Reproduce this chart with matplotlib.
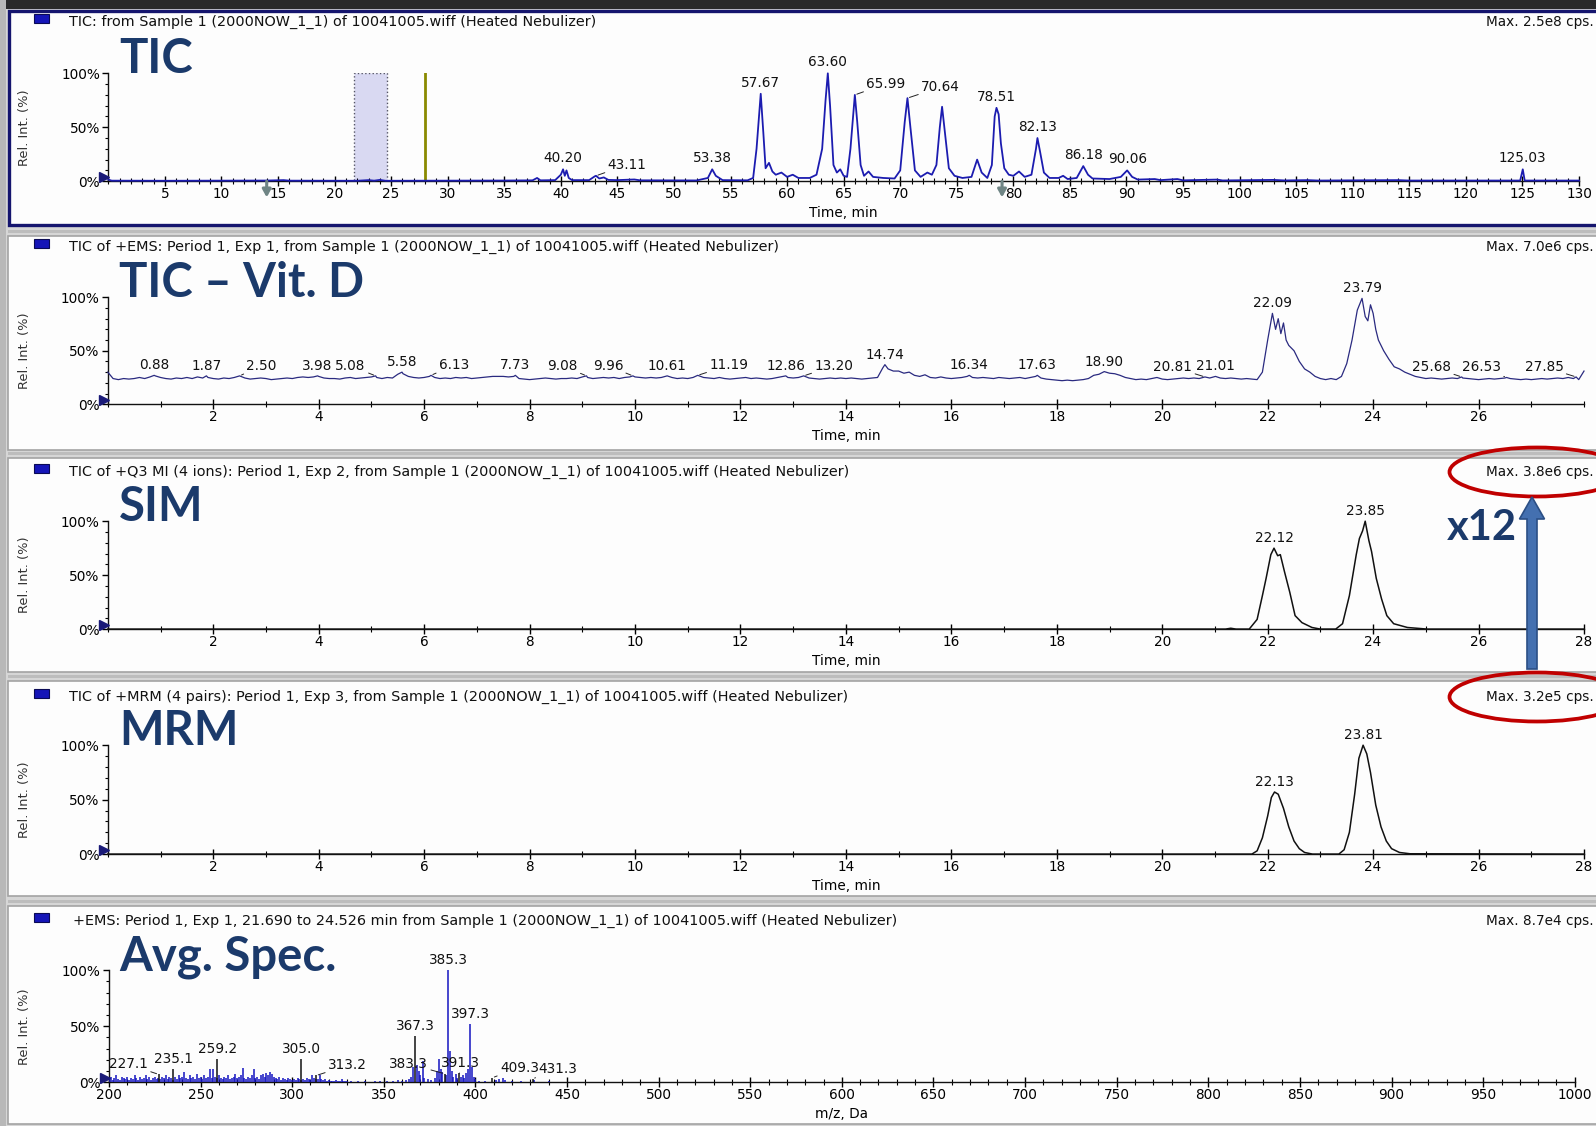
import numpy as np
import matplotlib
matplotlib.use("Agg")
import matplotlib.pyplot as plt
from matplotlib.patches import Rectangle, Ellipse, FancyArrow
from matplotlib.ticker import MultipleLocator

# ---------------------------------------------------------------- data
# Whole-run TIC (time in min, relative intensity in %)
tic_t = [0, 0.3, 5, 10, 14, 15.5, 16, 22, 23, 23.5, 24, 24.5, 30, 35, 37.5, 37.9, 38.2,
         39.5, 40.0, 40.2, 40.35, 40.5, 40.7, 41.0, 42.5, 43.0, 43.11, 43.4, 43.8, 44.2,
         45, 46.5, 47, 50, 52, 53.0, 53.38, 53.7, 54.0, 54.3, 56.5, 57.0, 57.3, 57.67,
         57.9, 58.1, 58.4, 58.7, 59.0, 59.5, 60.0, 60.5, 61.0, 62.0, 62.6, 63.1, 63.4,
         63.60, 63.8, 64.1, 64.4, 64.7, 65.0, 65.3, 65.6, 65.99, 66.2, 66.5, 66.8, 67.2,
         67.6, 68.5, 69.5, 70.0, 70.4, 70.64, 70.9, 71.3, 71.8, 72.4, 72.8, 73.2, 73.5,
         73.7, 73.95, 74.3, 74.8, 75.5, 76.3, 76.8, 77.2, 77.7, 78.1, 78.35, 78.51, 78.7,
         78.9, 79.2, 79.6, 80.0, 80.5, 81.0, 81.6, 82.0, 82.13, 82.35, 82.7, 83.2, 84.0,
         84.4, 84.8, 85.6, 86.18, 86.6, 87.0, 88.5, 89.5, 90.06, 90.5, 91.0, 92.5, 93.0,
         94.5, 95.0, 98.0, 98.5, 103, 104, 106, 107, 114, 115, 124.8, 125.03, 125.2, 130]
tic_y = [1.5, 0.5, 0.4, 0.5, 0.6, 1.0, 0.5, 0.4, 1.0, 0.5, 1.2, 0.4, 0.5, 0.6, 0.8, 3.0, 0.8,
         1.0, 6.0, 11.0, 5.0, 10.0, 3.0, 1.0, 1.0, 4.5, 5.0, 2.5, 3.5, 1.2,
         1.0, 1.6, 0.8, 0.8, 0.7, 3.0, 11.0, 5.0, 3.0, 1.0, 0.8, 3.0, 30.0, 81.0,
         45.0, 12.0, 17.0, 9.0, 6.0, 8.0, 4.0, 6.0, 3.0, 3.0, 6.0, 30.0, 75.0,
         100.0, 70.0, 15.0, 8.0, 11.0, 5.0, 4.0, 30.0, 80.0, 55.0, 15.0, 5.0, 9.0,
         4.0, 3.0, 2.5, 10.0, 55.0, 77.0, 50.0, 10.0, 4.0, 8.0, 6.0, 15.0, 50.0,
         69.0, 45.0, 12.0, 5.0, 3.0, 4.0, 20.0, 8.0, 3.0, 15.0, 60.0, 68.0, 62.0,
         35.0, 12.0, 6.0, 5.0, 9.0, 4.0, 6.0, 30.0, 40.0, 28.0, 8.0, 3.0, 3.0,
         5.0, 2.0, 3.0, 14.0, 6.0, 2.5, 2.0, 4.0, 10.0, 4.0, 1.5, 2.0, 1.0,
         2.0, 0.8, 1.5, 0.7, 1.2, 0.7, 1.0, 0.6, 1.0, 0.6, 0.6, 11.0, 0.6, 0.6]
tic_label_t = [40.20, 43.11, 53.38, 57.67, 63.60, 65.99, 70.64, 78.51, 82.13, 86.18, 90.06, 125.03]
tic_window = (21.7, 24.6)
tic_cursor = 28.0
tic_markers = [14.0, 79.0]

# TIC of +EMS over the Vit. D window, sampled every 0.1 min from 0 to 28 min
vitd_step = 0.1
vitd_base = [
    30, 24, 23, 24, 23.5, 24, 25, 24, 25.5, 26.5,
    25, 24, 23.5, 24.5, 24, 25, 24, 25.5, 24.5, 25,
    24, 23.5, 24.5, 24, 25, 26, 24.5, 23.5, 24, 24.5,
    24, 23, 23.5, 24, 24.5, 24, 25, 25.5, 25, 25.5,
    26, 24.5, 24, 24, 23.5, 24.5, 25, 24, 24.5, 25,
    25.5, 25, 24, 25, 24.5, 28, 28.5, 26, 25, 24.5,
    25, 26, 25, 24, 24.5, 24, 25, 24.5, 25, 24,
    24.5, 25, 25.5, 26, 26, 26, 25.5, 26, 24, 23.5,
    23, 23.5, 24, 24.5, 24, 23.5, 24, 24, 24.5, 24,
    25.5, 25, 24, 24.5, 25, 24.5, 25, 24, 25, 25.5,
    25.5, 25, 24.5, 25, 24.5, 25, 25.5, 25, 24, 24.5,
    24, 25, 26, 25, 24.5, 24, 25, 24, 23.5, 24,
    24.5, 25, 24, 24.5, 24, 23.5, 24, 25, 26, 25,
    24.5, 25, 25.5, 24.5, 24, 23.5, 24, 24.5, 24, 24.5,
    24, 24.5, 24, 23.5, 24, 24.5, 25, 34, 33, 31,
    31, 29, 30, 27, 26, 27.5, 25, 24.5, 25.5, 24.5,
    24, 24.5, 25, 26, 25, 24.5, 25, 24.5, 24, 25,
    24.5, 24, 24.5, 25, 24, 25, 26, 24.5, 23.5, 23,
    22.5, 22, 22.5, 22, 22.5, 23, 24, 27, 28, 29,
    29, 28.5, 27, 25, 24, 23, 23.5, 23, 24, 25,
    23.5, 23, 23.5, 24, 24.5, 24, 24.5, 24, 25, 24.5,
    25, 24.5, 24, 24.5, 24, 23.5, 24, 23.5, 23, 30,
    60, 82, 80, 76, 55, 50, 40, 33, 30, 26,
    24, 23, 24, 23, 26, 38, 60, 88, 85, 78,
    85, 60, 50, 42, 35, 33, 30, 28, 26, 25,
    24, 24.5, 24, 23.5, 24, 24.5, 24, 24.5, 24, 23.5,
    23, 23.5, 24, 23.5, 24, 24.5, 24, 23.5, 23, 23.5,
    23, 23.5, 24, 23.5, 24, 24.5, 24, 25, 24, 23,
    31]
vitd_apex_t = [0.88, 1.87, 2.50, 3.98, 5.08, 5.58, 6.13, 7.73, 9.08, 9.96, 10.61, 11.19,
               12.86, 13.20, 14.74, 16.34, 17.63, 18.90, 20.81, 21.01, 22.09, 23.79,
               25.68, 26.53, 27.85]
vitd_apex_y = [27, 26.5, 26.5, 26.5, 26.5, 30, 27, 27, 26.5, 26.5, 26.5, 27,
               26.5, 26.5, 37, 27, 27, 30.5, 25.5, 26, 85, 99,
               25.5, 25, 25.5]
vitd_shape_t = [22.15, 22.25, 22.35, 23.85, 23.95, 24.05]
vitd_shape_y = [70, 66, 60, 82, 93, 70]

# TIC of +Q3 MI (SIM)
sim_t = [0, 21.2, 21.3, 21.4, 21.65, 21.8, 21.9, 21.97, 22.06, 22.12, 22.19, 22.24, 22.32,
         22.42, 22.52, 22.65, 22.84, 23.0, 23.29, 23.42, 23.55, 23.68, 23.74, 23.80, 23.85,
         23.92, 23.97, 24.06, 24.16, 24.26, 24.39, 24.65, 25.03, 28]
sim_y = [0, 0, 0.8, 0, 0, 9, 31, 47, 69, 75, 68, 69, 53,
         34, 12.5, 6, 1.5, 0, 0, 5, 31, 69, 84, 91, 100,
         82, 72, 47, 28, 12.5, 5, 1.5, 0, 0]
sim_label_t = [22.12, 23.85]

# TIC of +MRM
mrm_t = [0, 21.7, 21.8, 21.9, 22.0, 22.07, 22.13, 22.2, 22.3, 22.4, 22.5, 22.6, 22.7, 22.85,
         23.35, 23.45, 23.55, 23.65, 23.73, 23.81, 23.88, 23.95, 24.05, 24.15, 24.25, 24.35,
         24.5, 24.7, 28]
mrm_y = [0, 0, 3, 15, 35, 52, 57, 55, 42, 25, 12, 5, 1.5, 0,
         0, 4, 20, 55, 88, 100, 92, 75, 45, 25, 12, 5,
         1.5, 0.3, 0]
mrm_label_t = [22.13, 23.81]

# Averaged +EMS spectrum, 21.690 to 24.526 min (m/z in Da, relative intensity in %)
spec_lo_start = 200          # nominal masses 200..330
spec_lo_int = [
    3, 5, 2, 4, 6, 3, 2, 5, 4, 3,
    5, 2, 4, 3, 6, 4, 2, 5, 3, 4,
    6, 3, 5, 2, 4, 5, 3, 4, 3, 5,
    4, 6, 3, 5, 4, 2, 5, 3, 6, 4,
    5, 9, 4, 3, 6, 4, 5, 3, 7, 4,
    5, 3, 6, 4, 5, 12, 4, 12, 5, 4,
    6, 4, 3, 5, 4, 6, 3, 4, 5, 7,
    4, 5, 6, 13, 4, 3, 5, 4, 6, 12,
    4, 5, 3, 6, 7, 5, 8, 6, 9, 7,
    5, 4, 3, 5, 2, 4, 3, 2, 4, 3,
    2, 3, 2, 4, 3, 2, 3, 2, 4, 3,
    2, 6, 4, 3, 3, 6, 3, 2, 3, 1.5,
    2, 1, 1.5, 1, 2, 1, 1.5, 3, 1, 1, 1.5]
spec_hi_mz = [332, 336, 340, 345, 348, 352, 355, 358, 360, 362, 364, 365, 366, 368, 369,
              370, 371.3, 372, 374, 376, 378, 379, 380.3, 381, 382, 384, 386, 387, 388, 389.3,
              390, 392, 393, 394, 395, 396, 398, 399, 400, 402, 405, 411, 413, 415, 416,
              420, 425, 432, 440]
spec_hi_int = [1, 1.5, 1, 1, 1.5, 1, 1.5, 2, 1.5, 2, 3, 5, 14, 15, 10,
               6, 19, 4, 3, 2, 4, 10, 21, 12, 9, 6, 28, 10, 5, 7,
               4, 5, 6, 4, 8, 12, 14, 5, 3, 1, 1, 2, 3, 3.5, 2,
               1, 1, 2, 1]
spec_label_mz = [227.1, 235.1, 259.2, 305.0, 313.2, 367.3, 383.3, 385.3, 391.3,
                 397.3, 409.3, 431.3]
spec_label_int = [7, 12, 21, 21, 6, 41, 7.5, 100, 8, 52, 4, 3]

panel_titles = [
    "TIC: from Sample 1 (2000NOW_1_1) of 10041005.wiff (Heated Nebulizer)",
    "TIC of +EMS: Period 1, Exp 1, from Sample 1 (2000NOW_1_1) of 10041005.wiff (Heated Nebulizer)",
    "TIC of +Q3 MI (4 ions): Period 1, Exp 2, from Sample 1 (2000NOW_1_1) of 10041005.wiff (Heated Nebulizer)",
    "TIC of +MRM (4 pairs): Period 1, Exp 3, from Sample 1 (2000NOW_1_1) of 10041005.wiff (Heated Nebulizer)",
    "+EMS: Period 1, Exp 1, 21.690 to 24.526 min from Sample 1 (2000NOW_1_1) of 10041005.wiff (Heated Nebulizer)",
]
panel_max = ["Max. 2.5e8 cps.", "Max. 7.0e6 cps.", "Max. 3.8e6 cps.", "Max. 3.2e5 cps.", "Max. 8.7e4 cps."]
panel_names = ["TIC", "TIC – Vit. D", "SIM", "MRM", "Avg. Spec."]
ratio_text = "x12"

# ---------------------------------------------------------------- layout
W, H = 1596, 1126
SMALL = 9.8
TITLE_FS = 10.4
NAVY = "#1b3a6b"
AX_BOX = [  # left, top (100 %), right, bottom (0 %) in pixels
    (108.3, 73.3, 1579.0, 181.2),
    (107.8, 297.3, 1584.0, 404.2),
    (107.8, 521.2, 1584.0, 629.1),
    (107.8, 745.2, 1584.0, 854.1),
    (108.9, 970.2, 1574.8, 1082.2),
]
PANEL_BOX = [(9, 11, 1602, 225), (8, 236, 1602, 450), (8, 458, 1602, 672),
             (8, 681, 1602, 896), (8, 906, 1602, 1124)]
TITLE_Y = [22.4, 247.4, 472.4, 697.4, 921.3]
TITLE_X = [69, 69, 69, 69, 73]

fig = plt.figure(figsize=(W / 100, H / 100), dpi=100)
fig.patch.set_facecolor("#d6d6d6")

# window frame and panel backgrounds
bg = fig.add_axes([0, 0, 1, 1])
bg.set_zorder(-10)
bg.set_xlim(0, W)
bg.set_ylim(H, 0)
bg.axis("off")
bg.add_patch(Rectangle((0, 0), W, 9, fc="#2a2a2a", ec="none"))
bg.add_patch(Rectangle((0, 0), 6, H, fc="#b8b8b8", ec="none"))
for i, (x0, y0, x1, y1) in enumerate(PANEL_BOX):
    if i == 0:
        bg.add_patch(Rectangle((x0, y0), x1 - x0, y1 - y0, fc="#fdfdfd", ec="#15156e", lw=2.4))
    else:
        bg.add_patch(Rectangle((x0, y0 - 6), x1 - x0, 3, fc="#bdbdbd", ec="none"))
        bg.add_patch(Rectangle((x0, y0), x1 - x0, y1 - y0, fc="#fdfdfd", ec="#a3a3a3", lw=1.2))


def make_axes(box):
    left, top, right, bottom = box
    ax = fig.add_axes([left / W, 1 - bottom / H, (right - left) / W, (bottom - top) / H])
    ax.patch.set_alpha(0)
    return ax


def style_axes(ax, xlim, xticks, minor, xlabel):
    ax.set_xlim(*xlim)
    ax.set_ylim(0, 100)
    for s in ("top", "right"):
        ax.spines[s].set_visible(False)
    for s in ("left", "bottom"):
        ax.spines[s].set_linewidth(1.0)
        ax.spines[s].set_color("#111111")
    ax.set_yticks([0, 50, 100])
    ax.set_yticklabels(["0%", "50%", "100%"])
    ax.yaxis.set_minor_locator(MultipleLocator(10))
    ax.set_xticks(xticks)
    ax.set_xticklabels([str(v) for v in xticks])
    ax.xaxis.set_minor_locator(MultipleLocator(minor))
    ax.tick_params(axis="x", which="major", direction="inout", length=7, width=1, labelsize=SMALL, pad=1)
    ax.tick_params(axis="x", which="minor", direction="inout", length=4, width=0.8)
    ax.tick_params(axis="y", which="major", direction="out", length=4, width=1, labelsize=SMALL, pad=2)
    ax.tick_params(axis="y", which="minor", direction="out", length=2, width=0.8)
    ax.set_xlabel(xlabel, fontsize=SMALL, labelpad=3)
    # run-start marker on the intensity axis
    left, top, right, bottom = ax_box_of[ax]
    dx = 4 * (xlim[1] - xlim[0]) / (right - left)
    ax.plot([xlim[0] - dx], [4], marker=">", ms=7, color="#1a1a78", clip_on=False, zorder=6)


def label_peaks(ax, xs, ys, texts, dxs, dy=3):
    for x, y, s, dx in zip(xs, ys, texts, dxs):
        arrow = None
        if dx:
            arrow = dict(arrowstyle="-", lw=0.7, color="#222222", shrinkA=0, shrinkB=1.5)
        ax.annotate(s, xy=(x, y), xytext=(dx, dy), textcoords="offset pixels",
                    ha="center", va="bottom", fontsize=SMALL, color="#111111",
                    arrowprops=arrow, annotation_clip=False, zorder=7)


axes = [make_axes(b) for b in AX_BOX]
ax_box_of = dict(zip(axes, AX_BOX))
ax1, ax2, ax3, ax4, ax5 = axes

# --- TIC
style_axes(ax1, (0, 130), list(range(5, 131, 5)), 1, "Time, min")
ax1.add_patch(Rectangle((tic_window[0], 0), tic_window[1] - tic_window[0], 100,
                        fc="#d9d9f2", ec="#555566", ls=":", lw=1.0, zorder=1))
ax1.plot([tic_cursor, tic_cursor], [0, 100], color="#8a8a00", lw=2, zorder=2)
ax1.plot(tic_t, tic_y, color="#1c1cb0", lw=1.3, clip_on=False, zorder=3)
for m in tic_markers:
    ax1.annotate("", xy=(m, -15), xytext=(m, 0), annotation_clip=False,
                 arrowprops=dict(arrowstyle="-|>,head_width=0.25,head_length=0.45",
                                 color="#6f8585", lw=2.2, shrinkA=0, shrinkB=0))
tic_label_y = np.interp(tic_label_t, tic_t, tic_y)
label_peaks(ax1, tic_label_t, tic_label_y, [f"{t:.2f}" for t in tic_label_t],
            [0, 31, 0, 0, 0, 31, 33, 0, 0, 0, 0, 0], dy=4)

# --- TIC, Vit. D window
grid_t = np.round(np.arange(len(vitd_base)) * vitd_step, 2)
detail_t = np.array(vitd_apex_t + vitd_shape_t)
detail_y = np.array(vitd_apex_y + vitd_shape_y)
keep = np.array([np.min(np.abs(detail_t - t)) > 0.015 for t in grid_t])
vt = np.concatenate([grid_t[keep], detail_t])
vy = np.concatenate([np.array(vitd_base)[keep], detail_y])
order = np.argsort(vt)
style_axes(ax2, (0, 28), list(range(2, 27, 2)), 1, "Time, min")
ax2.plot(vt[order], vy[order], color="#2a2a80", lw=0.9, clip_on=False, zorder=3)
label_peaks(ax2, vitd_apex_t, vitd_apex_y, [f"{t:.2f}" for t in vitd_apex_t],
            [0, 0, 22, 0, -25, 0, 23, 0, -24, -25, 0, 31, 0, 30, 0, 0, 0, 0,
             -32, 0, 0, 0, -30, -25, -32])

# --- SIM
style_axes(ax3, (0, 28), list(range(2, 29, 2)), 1, "Time, min")
ax3.plot(sim_t, sim_y, color="#111111", lw=1.1, clip_on=False, zorder=3)
label_peaks(ax3, sim_label_t, np.interp(sim_label_t, sim_t, sim_y),
            [f"{t:.2f}" for t in sim_label_t], [0, 0])

# --- MRM
style_axes(ax4, (0, 28), list(range(2, 29, 2)), 1, "Time, min")
ax4.plot(mrm_t, mrm_y, color="#111111", lw=1.1, clip_on=False, zorder=3)
label_peaks(ax4, mrm_label_t, np.interp(mrm_label_t, mrm_t, mrm_y),
            [f"{t:.2f}" for t in mrm_label_t], [0, 0])

# --- averaged spectrum
style_axes(ax5, (200, 1000), list(range(200, 1001, 50)), 10, "m/z, Da")
lo_mz = spec_lo_start + np.arange(len(spec_lo_int))
ax5.vlines(lo_mz, 0, spec_lo_int, color="#1414c0", lw=1.1, zorder=3)
ax5.vlines(spec_hi_mz, 0, spec_hi_int, color="#1414c0", lw=1.1, zorder=3)
stick_col = ["#1414c0" if mz in (385.3, 397.3) else "#111111" for mz in spec_label_mz]
ax5.vlines(spec_label_mz, 0, spec_label_int, colors=stick_col, lw=1.1, zorder=4)
label_peaks(ax5, spec_label_mz, spec_label_int, [f"{m:.1f}" for m in spec_label_mz],
            [-30, 0, 0, 0, 31, 0, -36, 0, 1, 0, 27, 25])

# ---------------------------------------------------------------- overlay text
ov = fig.add_axes([0, 0, 1, 1])
ov.set_zorder(20)
ov.set_xlim(0, W)
ov.set_ylim(H, 0)
ov.axis("off")
ov.patch.set_alpha(0)

for i in range(5):
    ty = TITLE_Y[i]
    ov.add_patch(Rectangle((34, ty - 8.5), 15, 9, fc="#1515b8", ec="#0a0a55", lw=0.8))
    ov.text(TITLE_X[i], ty, panel_titles[i], fontsize=TITLE_FS, ha="left", va="center", color="#111111")
    ov.text(1594, ty, panel_max[i], fontsize=SMALL, ha="right", va="center", color="#111111")
    left, top, right, bottom = AX_BOX[i]
    ov.text(24.5, (top + bottom) / 2, "Rel. Int. (%)", rotation=90, fontsize=9.4,
            ha="center", va="center", color="#333333")
    ov.text(119, top, panel_names[i], fontsize=34, fontweight="bold", family="Lato",
            color=NAVY, ha="left", va="baseline")

# ratio of the SIM and MRM maxima
for cy in (472, 697):
    ov.add_patch(Ellipse((1537, cy), 175, 49, fill=False, ec="#c00000", lw=2.7))
ov.add_patch(FancyArrow(1532, 669, 0, -172, width=10, head_width=25, head_length=22,
                        length_includes_head=True, fc="#4470b0", ec="#2b4f85", lw=1.2))
ov.text(1447, 539.5, ratio_text, fontsize=30, fontweight="bold", family="Lato",
        color=NAVY, ha="left", va="baseline")

fig.savefig("out.png", dpi=100, facecolor=fig.get_facecolor())
